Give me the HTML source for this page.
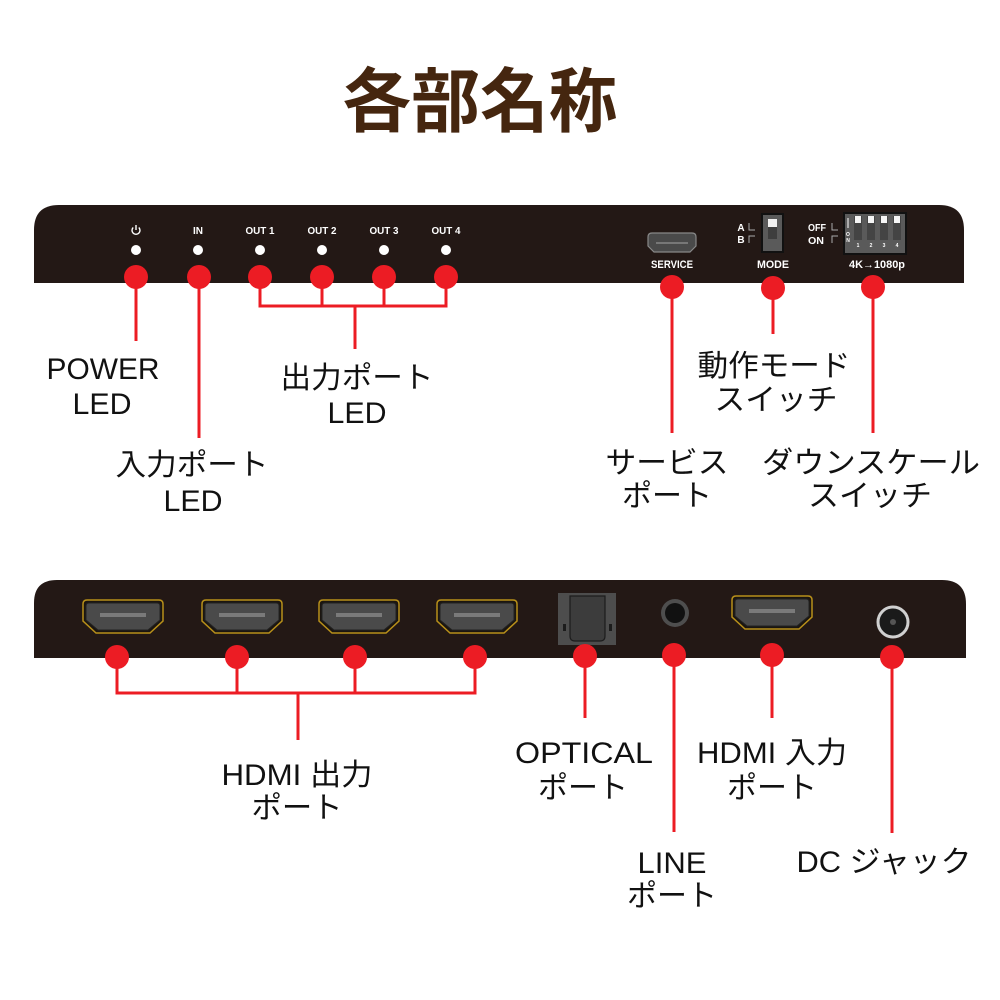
<!DOCTYPE html>
<html><head><meta charset="utf-8"><style>
html,body{margin:0;padding:0;background:#fff;width:1000px;height:1000px;overflow:hidden}
svg{display:block}
.lbl{font-family:"Liberation Sans","Noto Sans CJK JP",sans-serif;font-size:30px;fill:#111}
.sm{font-family:"Liberation Sans",sans-serif;font-weight:bold;fill:#fff}
</style></head><body>
<svg width="1000" height="1000" viewBox="0 0 1000 1000" xmlns="http://www.w3.org/2000/svg">
<defs>
<g id="hdmi">
 <path d="M0,4 Q0,0 4,0 L76,0 Q80,0 80,4 L80,21 L67,33 L13,33 L0,21 Z" fill="#1b1510" stroke="#b8901a" stroke-width="1.5"/>
 <path d="M3,6 Q3,3 6,3 L74,3 Q77,3 77,6 L77,20 L65,30 L15,30 L3,20 Z" fill="#4a4a4a" stroke="#222" stroke-width="1"/>
 <rect x="17" y="13" width="46" height="4" fill="#7a7a7a"/>
</g>
</defs>
<!-- title -->
<text x="480" y="126" text-anchor="middle" textLength="275" lengthAdjust="spacingAndGlyphs" style="font-family:'Noto Sans CJK JP',sans-serif;font-weight:bold;font-size:70px;fill:#45260f">各部名称</text>

<!-- top panel -->
<path d="M34,283 L34,230 Q34,205 59,205 L939,205 Q964,205 964,230 L964,283 Z" fill="#231815"/>
<!-- power icon -->
<path d="M133.2,227.5 A4,4 0 1 0 138.8,227.5" fill="none" stroke="#fff" stroke-width="1.4"/>
<line x1="136" y1="225" x2="136" y2="230" stroke="#fff" stroke-width="1.4"/>
<text class="sm" x="198" y="234" font-size="10" text-anchor="middle">IN</text>
<text class="sm" x="260" y="234" font-size="10" text-anchor="middle" textLength="29" lengthAdjust="spacingAndGlyphs">OUT 1</text>
<text class="sm" x="322" y="234" font-size="10" text-anchor="middle" textLength="29" lengthAdjust="spacingAndGlyphs">OUT 2</text>
<text class="sm" x="384" y="234" font-size="10" text-anchor="middle" textLength="29" lengthAdjust="spacingAndGlyphs">OUT 3</text>
<text class="sm" x="446" y="234" font-size="10" text-anchor="middle" textLength="29" lengthAdjust="spacingAndGlyphs">OUT 4</text>
<g fill="#fff">
<circle cx="136" cy="250" r="5"/><circle cx="198" cy="250" r="5"/><circle cx="260" cy="250" r="5"/>
<circle cx="322" cy="250" r="5"/><circle cx="384" cy="250" r="5"/><circle cx="446" cy="250" r="5"/>
</g>
<!-- service port -->
<path d="M648,237 Q648,233 652,233 L692,233 Q696,233 696,237 L696,246 L690,252 L654,252 L648,246 Z" fill="#4a4a4a" stroke="#888" stroke-width="1.2"/>
<rect x="656" y="242" width="32" height="2" fill="#777"/>
<text class="sm" x="672" y="268" font-size="11" text-anchor="middle" textLength="42" lengthAdjust="spacingAndGlyphs">SERVICE</text>
<!-- mode switch -->
<text class="sm" x="741" y="231" font-size="10" text-anchor="middle">A</text>
<text class="sm" x="741" y="243" font-size="10" text-anchor="middle">B</text>
<path d="M749,223 L749,230 L755,230 M749,243 L749,236 L755,236" fill="none" stroke="#aaa" stroke-width="1"/>
<rect x="761" y="213" width="23" height="40" fill="#111"/>
<rect x="763" y="215" width="19" height="36" fill="#5a5a5a"/>
<rect x="768" y="219" width="9" height="20" fill="#3e3e3e"/>
<rect x="768" y="219" width="9" height="8" fill="#f0f0f0"/>
<text class="sm" x="773" y="268" font-size="11" text-anchor="middle" textLength="32" lengthAdjust="spacingAndGlyphs">MODE</text>
<!-- dip switch -->
<text class="sm" x="817" y="231" font-size="10" text-anchor="middle" textLength="18" lengthAdjust="spacingAndGlyphs">OFF</text>
<text class="sm" x="816" y="244" font-size="10" text-anchor="middle" textLength="16" lengthAdjust="spacingAndGlyphs">ON</text>
<path d="M832,223 L832,230 L838,230 M832,243 L832,236 L838,236" fill="none" stroke="#aaa" stroke-width="1"/>
<rect x="843" y="212" width="64" height="43" fill="#111"/>
<rect x="845" y="214" width="60" height="39" fill="#5a5a5a"/>
<g fill="#444">
<rect x="854" y="216" width="8" height="24"/><rect x="867" y="216" width="8" height="24"/>
<rect x="880" y="216" width="8" height="24"/><rect x="893" y="216" width="8" height="24"/>
</g>
<g fill="#f5f5f5">
<rect x="855" y="216" width="6" height="7"/><rect x="868" y="216" width="6" height="7"/>
<rect x="881" y="216" width="6" height="7"/><rect x="894" y="216" width="6" height="7"/>
</g>
<line x1="848" y1="218" x2="848" y2="228" stroke="#fff" stroke-width="1"/>
<g class="sm" font-size="5" text-anchor="middle">
<text x="848" y="236">O</text><text x="848" y="242">N</text>
<text x="858" y="247">1</text><text x="871" y="247">2</text><text x="884" y="247">3</text><text x="897" y="247">4</text>
</g>
<text class="sm" x="877" y="268" font-size="11" text-anchor="middle" textLength="56" lengthAdjust="spacingAndGlyphs">4K→1080p</text>

<!-- bottom panel -->
<path d="M34,658 L34,603 Q34,580 57,580 L942,580 Q966,580 966,604 L966,658 Z" fill="#231815"/>
<use href="#hdmi" x="83" y="600"/>
<use href="#hdmi" x="202" y="600"/>
<use href="#hdmi" x="319" y="600"/>
<use href="#hdmi" x="437" y="600"/>
<use href="#hdmi" x="732" y="596"/>
<!-- optical -->
<rect x="558" y="593" width="58" height="52" fill="#4d4d4d"/>
<path d="M570,596 L605,596 L605,636 Q605,641 600,641 L575,641 Q570,641 570,636 Z" fill="#3c3c3c" stroke="#1c1c1c" stroke-width="1.2"/>
<rect x="563" y="624" width="3" height="7" fill="#1c1c1c"/>
<rect x="609" y="624" width="3" height="7" fill="#1c1c1c"/>
<!-- line jack -->
<circle cx="675" cy="613" r="14" fill="#4e4e4e"/>
<circle cx="675" cy="613" r="10" fill="#111"/>
<!-- dc jack -->
<circle cx="893" cy="622" r="15" fill="#1a1a1a" stroke="#d0d0d0" stroke-width="3"/>
<circle cx="893" cy="622" r="3" fill="#555"/>

<!-- connectors -->
<g stroke="#ec1c24" stroke-width="3" fill="none">
<line x1="136" y1="277" x2="136" y2="341"/>
<line x1="199" y1="277" x2="199" y2="438"/>
<path d="M260,277 V306 M322,277 V306 M384,277 V306 M446,277 V306 M258.5,306 H447.5 M355,306 V349"/>
<line x1="672" y1="287" x2="672" y2="433"/>
<line x1="773" y1="288" x2="773" y2="334"/>
<line x1="873" y1="287" x2="873" y2="433"/>
<path d="M117,657 V693 M237,657 V693 M355,657 V693 M475,657 V693 M115.5,693 H476.5 M298,693 V740"/>
<line x1="585" y1="656" x2="585" y2="718"/>
<line x1="674" y1="655" x2="674" y2="832"/>
<line x1="772" y1="655" x2="772" y2="718"/>
<line x1="892" y1="657" x2="892" y2="833"/>
</g>
<g fill="#ec1c24">
<circle cx="136" cy="277" r="12"/><circle cx="199" cy="277" r="12"/><circle cx="260" cy="277" r="12"/>
<circle cx="322" cy="277" r="12"/><circle cx="384" cy="277" r="12"/><circle cx="446" cy="277" r="12"/>
<circle cx="672" cy="287" r="12"/><circle cx="773" cy="288" r="12"/><circle cx="873" cy="287" r="12"/>
<circle cx="117" cy="657" r="12"/><circle cx="237" cy="657" r="12"/><circle cx="355" cy="657" r="12"/><circle cx="475" cy="657" r="12"/>
<circle cx="585" cy="656" r="12"/><circle cx="674" cy="655" r="12"/><circle cx="772" cy="655" r="12"/><circle cx="892" cy="657" r="12"/>
</g>

<!-- labels -->
<g class="lbl" text-anchor="middle" lengthAdjust="spacingAndGlyphs">
<text x="103" y="379" textLength="113" lengthAdjust="spacingAndGlyphs">POWER</text>
<text x="102" y="414" textLength="59" lengthAdjust="spacingAndGlyphs">LED</text>
<text x="192" y="475" textLength="153" lengthAdjust="spacingAndGlyphs">入力ポート</text>
<text x="193" y="511" textLength="59" lengthAdjust="spacingAndGlyphs">LED</text>
<text x="357" y="388" textLength="153" lengthAdjust="spacingAndGlyphs">出力ポート</text>
<text x="357" y="423" textLength="59" lengthAdjust="spacingAndGlyphs">LED</text>
<text x="774" y="376" textLength="153" lengthAdjust="spacingAndGlyphs">動作モード</text>
<text x="776" y="410" textLength="123" lengthAdjust="spacingAndGlyphs">スイッチ</text>
<text x="667" y="473" textLength="123" lengthAdjust="spacingAndGlyphs">サービス</text>
<text x="667" y="506" textLength="90" lengthAdjust="spacingAndGlyphs">ポート</text>
<text x="871" y="473" textLength="218" lengthAdjust="spacingAndGlyphs">ダウンスケール</text>
<text x="870" y="506" textLength="124" lengthAdjust="spacingAndGlyphs">スイッチ</text>
<text x="297" y="785" textLength="151" lengthAdjust="spacingAndGlyphs">HDMI 出力</text>
<text x="297" y="818" textLength="91" lengthAdjust="spacingAndGlyphs">ポート</text>
<text x="584" y="763" textLength="138" lengthAdjust="spacingAndGlyphs">OPTICAL</text>
<text x="583" y="798" textLength="90" lengthAdjust="spacingAndGlyphs">ポート</text>
<text x="672" y="873" textLength="69" lengthAdjust="spacingAndGlyphs">LINE</text>
<text x="672" y="906" textLength="90" lengthAdjust="spacingAndGlyphs">ポート</text>
<text x="772" y="763" textLength="150" lengthAdjust="spacingAndGlyphs">HDMI 入力</text>
<text x="772" y="798" textLength="90" lengthAdjust="spacingAndGlyphs">ポート</text>
<text x="884" y="872" textLength="175" lengthAdjust="spacingAndGlyphs">DC ジャック</text>
</g>
</svg>
</body></html>
